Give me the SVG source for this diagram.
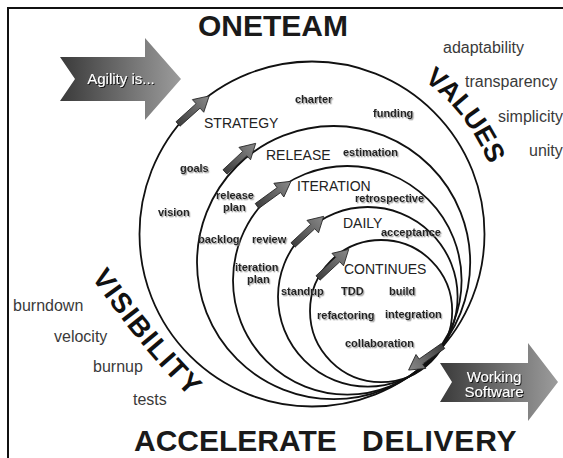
<svg xmlns="http://www.w3.org/2000/svg" width="563" height="458" viewBox="0 0 563 458">
<style>
text{font-family:"Liberation Sans",Arial,sans-serif}
.ttl{font-size:30px;font-weight:bold;fill:#1a1a1a}
.big{font-size:27px;font-weight:bold;fill:#111}
.lb{font-size:11px;font-weight:bold;fill:#222;filter:url(#sh)}
.st{font-size:14px;fill:#222}
.vw{font-size:16px;fill:#3a3a3a}
.wt{font-size:15px;fill:#fff;filter:url(#dsh)}
.ring{fill:none;stroke:#111;stroke-width:1.8}
.sa{fill:url(#ga);stroke:#222;stroke-width:0.8}
.ba{stroke:none}
</style>
<defs>
<filter id="sh" x="-10%" y="-30%" width="130%" height="170%"><feDropShadow dx="1.2" dy="1.3" stdDeviation="0.7" flood-color="#888" flood-opacity="0.8"/></filter>
<filter id="dsh" x="-10%" y="-30%" width="130%" height="170%"><feDropShadow dx="1" dy="1" stdDeviation="0.6" flood-color="#111" flood-opacity="0.9"/></filter>
<linearGradient id="ga" x1="0" y1="0" x2="1" y2="0"><stop offset="0" stop-color="#3e3e3e"/><stop offset="1" stop-color="#8a8a8a"/></linearGradient>
<linearGradient id="gb" x1="0" y1="0" x2="1" y2="0"><stop offset="0" stop-color="#3a3a3a"/><stop offset="1" stop-color="#9c9c9c"/></linearGradient>
<path id="small" d="M0,-3 L27,-3 L27,-8.5 L42,0 L27,8.5 L27,3 L0,3 Z"/>
<path id="valuesPath" d="M407,69.5 A190,190 0 0 1 499.1,201"/>
<path id="visPath" d="M85.8,269 Q140.5,350.2 204,411.5"/>
</defs>
<rect x="0" y="0" width="563" height="458" fill="#fff"/>
<g id="frame" stroke="#111" stroke-width="2" fill="none"><path d="M8,458 V8 H563"/></g>

<g id="title"><text class="ttl" x="198" y="36">ONETEAM</text></g>
<g id="footer"><text class="ttl" x="134" y="451">ACCELERATE</text><text class="ttl" x="362" y="451" style="letter-spacing:0.8px">DELIVERY</text></g>

<g id="agility">
<polygon class="ba" fill="url(#gb)" points="60,57 145,57 145,38 181,79 145,120 145,101 60,101 75,79"/>
<text class="wt" x="121" y="84" text-anchor="middle">Agility is...</text>
</g>
<g id="working">
<polygon class="ba" fill="url(#gb)" points="440,363 528,363 528,343 558,382 528,421 528,402 440,402 452,382"/>
<text class="wt" x="494" y="382" text-anchor="middle">Working</text>
<text class="wt" x="494" y="397" text-anchor="middle">Software</text>
</g>

<g id="connectors">
<circle class="ring" cx="312" cy="234" r="172.5"/>
<circle class="ring" cx="333.6" cy="262.6" r="136.6"/>
<circle class="ring" cx="347.3" cy="280.3" r="114.3"/>
<circle class="ring" cx="367.8" cy="296.8" r="89.8"/>
<circle class="ring" cx="381.1" cy="311.1" r="71.1"/>
<use href="#small" class="sa" transform="translate(178,124) rotate(-42)"/>
<use href="#small" class="sa" transform="translate(225,172) rotate(-43)"/>
<use href="#small" class="sa" transform="translate(257,206) rotate(-36)"/>
<use href="#small" class="sa" transform="translate(293,245) rotate(-43)"/>
<use href="#small" class="sa" transform="translate(318,278) rotate(-43)"/>
<use href="#small" class="sa" transform="translate(443,346) rotate(145)"/>
</g>

<g id="values">
<text class="big"><textPath href="#valuesPath" startOffset="74" text-anchor="middle">VALUES</textPath></text>
<text class="vw" x="443" y="53">adaptability</text>
<text class="vw" x="465" y="87">transparency</text>
<text class="vw" x="498" y="122">simplicity</text>
<text class="vw" x="529" y="156">unity</text>
</g>

<g id="visibility">
<text class="big" style="font-size:28px;letter-spacing:1.5px"><textPath href="#visPath" startOffset="88" text-anchor="middle">VISIBILITY</textPath></text>
<text class="vw" x="13" y="311">burndown</text>
<text class="vw" x="54" y="342">velocity</text>
<text class="vw" x="93" y="372">burnup</text>
<text class="vw" x="133" y="405">tests</text>
</g>

<g id="strategy">
<text class="st" x="204" y="128">STRATEGY</text>
<text class="lb" x="295" y="103">charter</text>
<text class="lb" x="373" y="117">funding</text>
<text class="lb" x="180" y="172">goals</text>
<text class="lb" x="158" y="216">vision</text>
</g>
<g id="release">
<text class="st" x="266" y="160">RELEASE</text>
<text class="lb" x="343" y="156">estimation</text>
<text class="lb" x="216" y="199">release</text>
<text class="lb" x="223" y="211">plan</text>
<text class="lb" x="198" y="243">backlog</text>
</g>
<g id="iteration">
<text class="st" x="297" y="191">ITERATION</text>
<text class="lb" x="355" y="202">retrospective</text>
<text class="lb" x="252" y="243">review</text>
<text class="lb" x="235" y="271">iteration</text>
<text class="lb" x="247" y="283">plan</text>
</g>
<g id="daily">
<text class="st" x="343" y="228">DAILY</text>
<text class="lb" x="381" y="236">acceptance</text>
<text class="lb" x="281" y="295">standup</text>
</g>
<g id="continues">
<text class="st" x="344" y="273.5">CONTINUES</text>
<text class="lb" x="341" y="295">TDD</text>
<text class="lb" x="389" y="295">build</text>
<text class="lb" x="317" y="319">refactoring</text>
<text class="lb" x="385" y="318">integration</text>
<text class="lb" x="345" y="347">collaboration</text>
</g>
</svg>
